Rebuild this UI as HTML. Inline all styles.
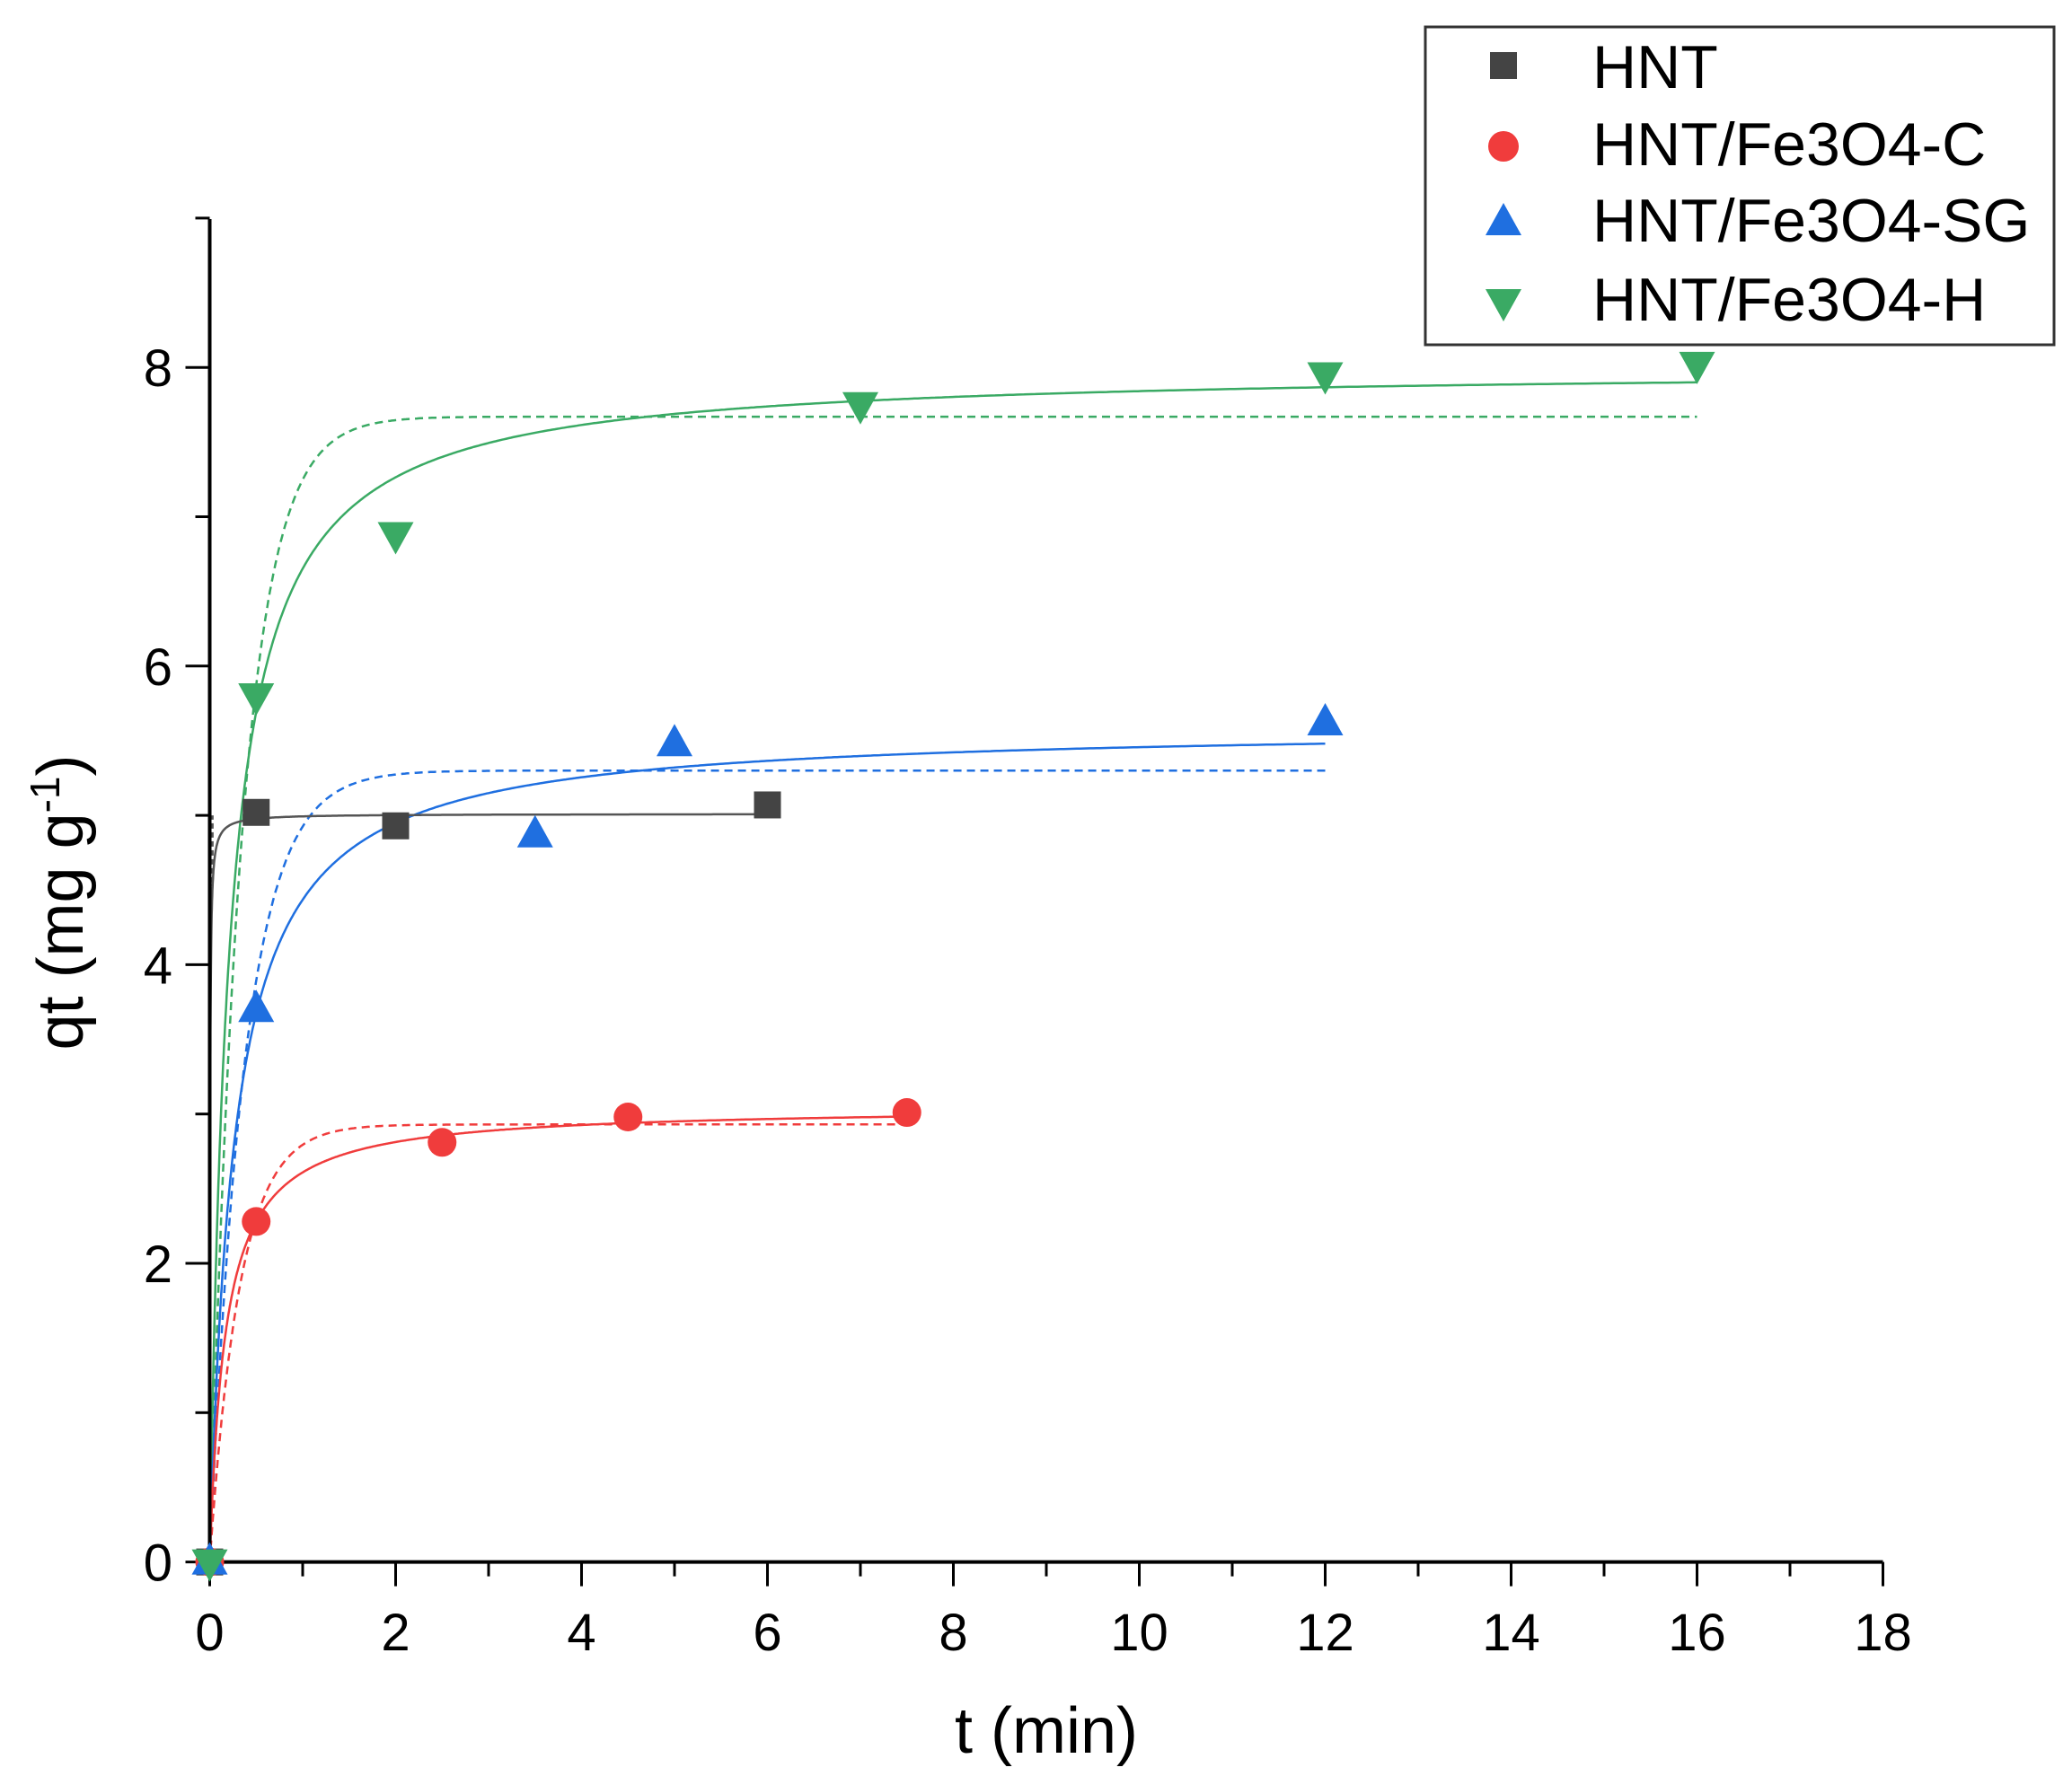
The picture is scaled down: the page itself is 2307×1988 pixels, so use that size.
<!DOCTYPE html>
<html><head><meta charset="utf-8"><style>
html,body{margin:0;padding:0;background:#fff;}
svg text{font-family:"Liberation Sans",sans-serif;}
</style></head><body>
<svg id="s" width="2307" height="1983" viewBox="0 0 2307 1983" xmlns="http://www.w3.org/2000/svg">
<rect width="2307" height="1983" fill="#fff"/>
<g id="curves" fill="none" stroke-width="2.5"></g>
<g id="axes" stroke="#000" stroke-width="4"></g>
<g id="marks"></g>
<g id="labels" font-size="58" fill="#000"></g>
<text x="1165" y="1952" font-size="72" text-anchor="middle">t (min)</text>
<text transform="translate(92,1005) rotate(-90)" font-size="72" text-anchor="middle">qt (mg g<tspan baseline-shift="super" font-size="46">-1</tspan>)</text>
<rect x="1587" y="30" width="700" height="354" fill="#fff" stroke="#333" stroke-width="3"/>
<rect x="1659" y="58" width="30" height="30" fill="#444"/>
<circle cx="1674" cy="163" r="17" fill="#f03c3c"/>
<polygon points="1674,226 1694,262 1654,262" fill="#1f6fe0"/>
<polygon points="1654,322 1694,322 1674,358" fill="#3aaa64"/>
<g font-size="68" fill="#000">
<text x="1773" y="98">HNT</text>
<text x="1773" y="184">HNT/Fe3O4-C</text>
<text x="1773" y="269">HNT/Fe3O4-SG</text>
<text x="1773" y="357">HNT/Fe3O4-H</text>
</g>
</svg>
<script>
const X=t=>233.5+t*103.5, Y=q=>1739.6-q*166.3;
const NS="http://www.w3.org/2000/svg";
function el(p,n,a){const e=document.createElementNS(NS,n);for(const k in a)e.setAttribute(k,a[k]);document.getElementById(p).appendChild(e);return e;}
// axes
el("axes","line",{x1:X(0),y1:Y(0),x2:X(18),y2:Y(0)});
el("axes","line",{x1:X(0),y1:Y(0)+2,x2:X(0),y2:244});
for(let i=0;i<=18;i++){el("axes","line",{x1:X(i),y1:Y(0),x2:X(i),y2:Y(0)+(i%2?16:27),"stroke-width":3});
 if(i%2==0){const t=el("labels","text",{x:X(i),y:1838,"text-anchor":"middle"});t.textContent=i;}}
for(let j=0;j<=9;j++){el("axes","line",{x1:X(0),y1:Y(j),x2:X(0)-(j%2?16:27),y2:Y(j),"stroke-width":3});
 if(j%2==0&&j<9){const t=el("labels","text",{x:192,y:Y(j)+21,"text-anchor":"end"});t.textContent=j;}}
// curves
function curve(f,t1,col,dash){let d="";for(let i=0;i<=600;i++){const t=t1*Math.pow(i/600,2);d+=(i?"L":"M")+X(t).toFixed(1)+","+Y(f(t)).toFixed(1);}
 el("curves","path",{d:d,stroke:col,"stroke-dasharray":dash?"9,6":"none"});}
const pso=(qe,k)=>t=>qe*qe*k*t/(1+qe*k*t), pfo=(qe,k)=>t=>qe*(1-Math.exp(-k*t));
const G="#3aaa64",B="#1f6fe0",R="#f03c3c",K="#555";
curve(pso(8.0,0.617),16,G,0);curve(pfo(7.67,2.9),16,G,1);
curve(pso(5.6,0.68),12,B,0);curve(pfo(5.3,2.65),12,B,1);
curve(pso(3.05,1.94),7.5,R,0);curve(pfo(2.93,3.07),7.5,R,1);
curve(pso(5.01,60),6,K,0);
el("curves","line",{x1:X(0.03),y1:Y(4.55),x2:X(0.03),y2:Y(5.0),stroke:K,"stroke-dasharray":"6,4"});
// markers
function sq(t,q){el("marks","rect",{x:X(t)-15,y:Y(q)-15,width:30,height:30,fill:"#444"});}
function ci(t,q){el("marks","circle",{cx:X(t),cy:Y(q),r:16,fill:R});}
function up(t,q){const x=X(t),y=Y(q);el("marks","polygon",{points:`${x},${y-22} ${x+20},${y+14} ${x-20},${y+14}`,fill:B});}
function dn(t,q){const x=X(t),y=Y(q);el("marks","polygon",{points:`${x-20},${y-14} ${x+20},${y-14} ${x},${y+22}`,fill:G});}
[[0,0],[0.5,5.02],[2,4.93],[6,5.07]].forEach(p=>sq(...p));
[[0,0],[0.5,2.28],[2.5,2.81],[4.5,2.98],[7.5,3.01]].forEach(p=>ci(...p));
[[0,0],[0.5,3.7],[3.5,4.87],[5,5.48],[12,5.62]].forEach(p=>up(...p));
[[0,0],[0.5,5.8],[2,6.88],[7,7.75],[12,7.95],[16,8.02]].forEach(p=>dn(...p));
</script>
</body></html>
